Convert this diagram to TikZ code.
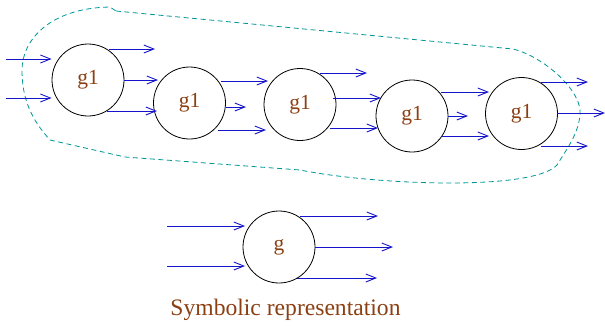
\documentclass[tikz,border=0pt]{standalone}
\usepackage{fontspec}
\setmainfont{Liberation Serif}
\usetikzlibrary{arrows.meta}
\definecolor{flowblue}{RGB}{20,20,200}
\definecolor{groupteal}{RGB}{0,150,150}
\definecolor{labelbrown}{RGB}{139,64,19}
\begin{document}
\begin{tikzpicture}[x=1pt,y=-1pt,
  gate/.style={circle,draw=black,line width=0.8pt,minimum size=72pt,inner sep=0pt,
    text=labelbrown,font=\fontsize{21.5}{24}\selectfont},
  flow/.style={draw=flowblue,line width=0.9pt,-{Straight Barb[length=10pt,width=8pt,line width=0.9pt]}},
  group/.style={draw=groupteal,line width=0.8pt,dash pattern=on 5pt off 3.5pt}
]
\useasboundingbox (0,0) rectangle (605,327);

% chain of gates
\node[gate] (c1) at (88,80) {g1};
\node[gate] (c2) at (189.5,103) {g1};
\node[gate] (c3) at (300,104.5) {g1};
\node[gate] (c4) at (412,116) {g1};
\node[gate] (c5) at (521.5,113.5) {g1};

% grouping outline
\draw[group] (116,11) -- (513,49)
  .. controls (545,57) and (583,92) .. (580,115)
  .. controls (578,135) and (566,150) .. (557,165)
  .. controls (545,178) and (500,183) .. (450,183)
  .. controls (400,183) and (340,178) .. (300,170)
  -- (125,157) -- (50,140)
  .. controls (32,120) and (22,100) .. (22,70)
  .. controls (22,40) and (50,8) .. (110,7) -- cycle;

% inputs of the first gate
\coordinate (in1) at (6,59);
\coordinate (in2) at (6,98);
\draw[flow] (in1) -- (c1.west |- in1);
\draw[flow] (in2) -- (c1.west |- in2);

% gate 1 outputs
\draw[flow] (109,49) -- (155,49);
\draw[flow] (124,80) -- (158,80);
\draw[flow] (107,111) -- (157,111);
% gate 2 outputs
\draw[flow] (221,81) -- (268,81);
\draw[flow] (226,107) -- (246,107);
\draw[flow] (218,130) -- (266,130);
% gate 3 outputs
\draw[flow] (320,73) -- (367,73);
\draw[flow] (333,98) -- (381,98);
\draw[flow] (330,128) -- (378,128);
% gate 4 outputs
\draw[flow] (441,92) -- (489,92);
\draw[flow] (448,116) -- (468,116);
\draw[flow] (441,136) -- (489,136);
% gate 5 outputs
\draw[flow] (541,82) -- (588,82);
\draw[flow] (557,113) -- (605,113);
\draw[flow] (541,146) -- (588,146);

% symbolic gate
\node[gate] (g) at (279,247) {g};
\draw[flow] (167,226) -- (245,226);
\draw[flow] (167,266) -- (245,266);
\draw[flow] (300,216) -- (378,216);
\draw[flow] (g.east) -- (393,247);
\draw[flow] (297,278) -- (377,278);

\node[text=labelbrown,font=\fontsize{23.6}{26}\selectfont] (lbl) at (285.5,310) {Symbolic representation};
\end{tikzpicture}
\end{document}
